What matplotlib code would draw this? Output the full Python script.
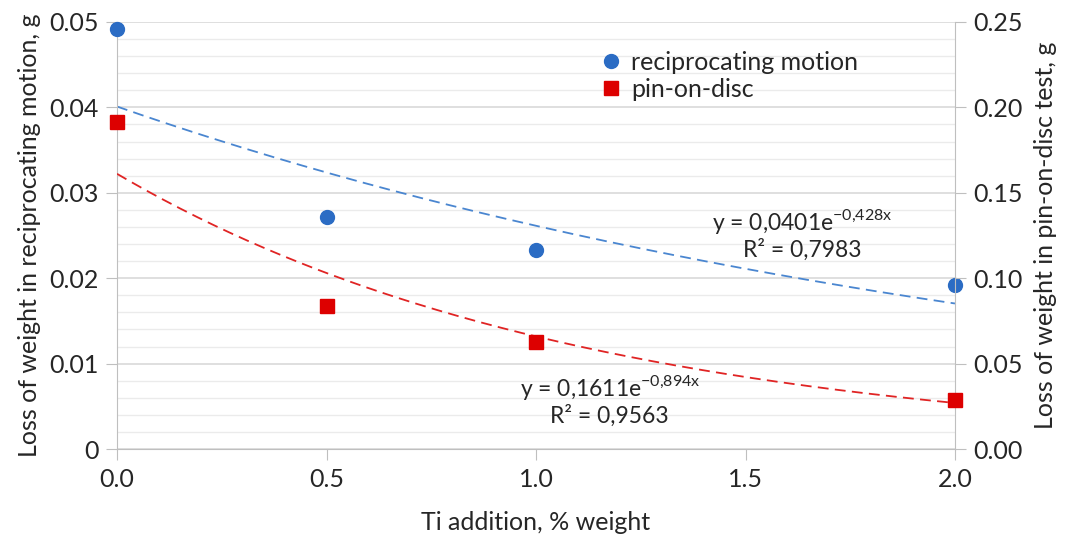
import numpy as np
import matplotlib
matplotlib.use("Agg")
import matplotlib.pyplot as plt
from matplotlib.ticker import MultipleLocator, FormatStrFormatter

# Data
ti_addition = [0.0, 0.5, 1.0, 2.0]
recip_loss = [0.0492, 0.0272, 0.0233, 0.0192]
pin_loss = [0.1915, 0.0837, 0.0626, 0.0287]

# Trendline coefficients (from chart annotations)
recip_a, recip_b = 0.0401, -0.428
pin_a, pin_b = 0.1611, -0.894

x_ticks = [0.0, 0.5, 1.0, 1.5, 2.0]
left_ticks = [0, 0.01, 0.02, 0.03, 0.04, 0.05]
left_labels = ['0', '0.01', '0.02', '0.03', '0.04', '0.05']
right_ticks = [0.00, 0.05, 0.10, 0.15, 0.20, 0.25]

plt.rcParams['font.family'] = ['Lato', 'DejaVu Sans']

blue = '#2B6CC4'
blue_line = '#4A86D0'
red = '#DD0000'
red_line = '#E02424'
grid_c = '#D9D9D9'
spine_c = '#BFBFBF'
txt = '#262626'
FS = 18

fig = plt.figure(figsize=(10.65, 5.36), dpi=100)
ax = fig.add_axes([0.1099, 0.1623, 0.7868, 0.7967])
ax2 = ax.twinx()

ax.set_xlim(0, 2.0)
ax.set_ylim(0, 0.05)
ax2.set_ylim(0, 0.25)

ax.yaxis.set_major_locator(MultipleLocator(0.01))
ax.yaxis.set_minor_locator(MultipleLocator(0.002))
ax.grid(True, which='major', axis='y', color=grid_c, lw=1.2)
ax.grid(True, which='minor', axis='y', color='#EBEBEB', lw=1.0)
ax.set_axisbelow(True)
ax.set_xticks(x_ticks)
ax.xaxis.set_major_formatter(FormatStrFormatter('%.1f'))
ax.set_yticks(left_ticks)
ax.set_yticklabels(left_labels)
ax2.set_yticks(right_ticks)
ax2.yaxis.set_major_formatter(FormatStrFormatter('%.2f'))

for a in (ax, ax2):
    for s in a.spines.values():
        s.set_visible(False)
ax.spines['left'].set_visible(True)
ax.spines['left'].set_color(spine_c)
ax.spines['bottom'].set_visible(True)
ax.spines['bottom'].set_color(spine_c)
ax2.spines['right'].set_visible(True)
ax2.spines['right'].set_color(spine_c)

ax.tick_params(axis='both', which='major', labelsize=FS, colors=txt, length=8, color=spine_c)
ax.tick_params(axis='y', which='minor', length=0)
ax.tick_params(axis='y', pad=5)
ax.tick_params(axis='x', pad=6)
ax2.tick_params(axis='y', which='major', labelsize=FS, colors=txt, length=8, color=spine_c, pad=5)
ax2.tick_params(axis='y', which='minor', length=0)

xs = np.linspace(0, 2.0, 200)
ax.plot(xs, recip_a * np.exp(recip_b * xs), color=blue_line, lw=1.3, dashes=(6, 3.5))
ax2.plot(xs, pin_a * np.exp(pin_b * xs), color=red_line, lw=1.3, dashes=(6, 3.5))

h1, = ax.plot(ti_addition, recip_loss, 'o', color=blue, ms=10, clip_on=False, zorder=5,
              label='reciprocating motion')
h2, = ax2.plot(ti_addition, pin_loss, 's', color=red, ms=9.5, clip_on=False, zorder=5,
               label='pin-on-disc')

ax.set_xlabel('Ti addition, % weight', fontsize=FS, color=txt, labelpad=14)
ax.set_ylabel('Loss of weight in reciprocating motion, g', fontsize=FS, color=txt, labelpad=6)
ax2.set_ylabel('Loss of weight in pin-on-disc test, g', fontsize=FS, color=txt, labelpad=8)

ax2.legend(handles=[h1, h2], loc='upper left', bbox_to_anchor=(0.545, 0.985), frameon=False,
           fontsize=FS, handletextpad=0.2, labelspacing=0.15, handlelength=1.2,
           labelcolor=txt)

ax.text(0.818, 0.532, r'y = 0,0401e$^{\mathregular{-0{,}428x}}$', transform=ax.transAxes,
        ha='center', va='center', fontsize=16.5, color=txt)
ax.text(0.818, 0.466, 'R² = 0,7983', transform=ax.transAxes,
        ha='center', va='center', fontsize=16.5, color=txt)
ax.text(0.588, 0.143, r'y = 0,1611e$^{\mathregular{-0{,}894x}}$', transform=ax.transAxes,
        ha='center', va='center', fontsize=16.5, color=txt)
ax.text(0.588, 0.077, 'R² = 0,9563', transform=ax.transAxes,
        ha='center', va='center', fontsize=16.5, color=txt)

fig.savefig('out.png', dpi=100)
